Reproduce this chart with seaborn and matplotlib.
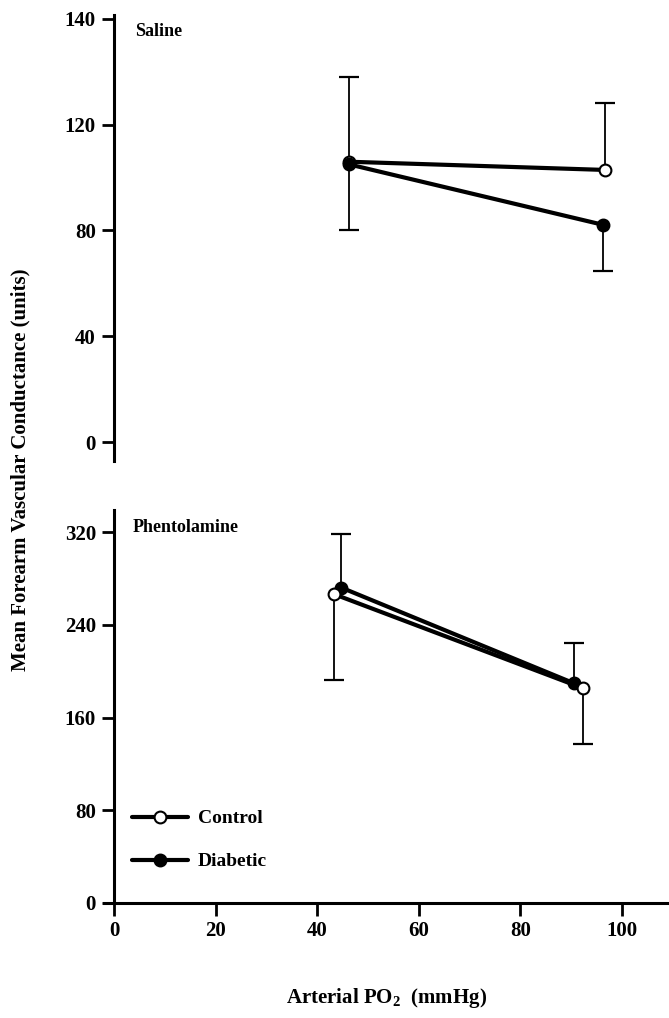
import matplotlib.pyplot as plt
from matplotlib.lines import Line2D
import seaborn as sns

# valori (PO2 arteriosa in mmHg, conduttanza in unita')
po2_sal_control = [46.3, 96.6]
mfvc_sal_control = [106.0, 102.9]
po2_sal_diabetic = [46.3, 96.4]
mfvc_sal_diabetic = [105.0, 82.1]
# estremi delle barre di errore (disegnate da un solo lato)
sal_control_upper = [138.2, 128.1]
sal_diabetic_lower = [80.2, 64.8]

po2_phe_control = [43.4, 92.4]
mfvc_phe_control = [266.3, 185.2]
po2_phe_diabetic = [44.8, 90.6]
mfvc_phe_diabetic = [272.0, 189.5]
phe_control_lower = [192.4, 137.2]
phe_diabetic_upper = [318.4, 224.6]

sal_yticks = [0, 40, 80, 120, 160]
sal_yticklabels = ['0', '40', '80', '120', '140']
phe_yticks = [0, 80, 160, 240, 320]
xticks = [0, 20, 40, 60, 80, 100]

sns.set_style('ticks')
plt.rcParams['font.family'] = ['Liberation Serif', 'DejaVu Serif']
plt.rcParams['font.weight'] = 'bold'
plt.rcParams['mathtext.fontset'] = 'custom'
plt.rcParams['mathtext.rm'] = 'Liberation Serif:bold'
for k in ['text.color', 'axes.edgecolor', 'xtick.color', 'ytick.color',
          'axes.labelcolor']:
    plt.rcParams[k] = 'black'

fig = plt.figure(figsize=(6.69, 10.18), dpi=100)
ax1 = fig.add_axes([0.1552, 0.5476, 0.8448, 0.4377])
ax2 = fig.add_axes([0.1552, 0.1130, 0.8448, 0.3860])

lw = 3
ms = 8.5


def draw(ax, x, y, filled):
    sns.lineplot(x=x, y=y, ax=ax, color='black', lw=lw, marker='o',
                 markersize=ms, markeredgecolor='black', markeredgewidth=1.5,
                 markerfacecolor='black' if filled else 'white', zorder=3)


def errbar(ax, x, y, ends):
    # barra verticale dal punto fino all'estremo, con cappuccio solo in fondo
    for xi, yi, ei in zip(x, y, ends):
        ax.plot([xi, xi], [yi, ei], color='black', lw=1.3, zorder=1)
        ax.plot([xi], [ei], marker='_', markersize=15, markeredgewidth=1.6,
                color='black', zorder=1)


# pannello superiore: salina
errbar(ax1, po2_sal_control, mfvc_sal_control, sal_control_upper)
errbar(ax1, po2_sal_diabetic, mfvc_sal_diabetic, sal_diabetic_lower)
draw(ax1, po2_sal_control, mfvc_sal_control, False)
draw(ax1, po2_sal_diabetic, mfvc_sal_diabetic, True)

# pannello inferiore: fentolamina
errbar(ax2, po2_phe_control, mfvc_phe_control, phe_control_lower)
errbar(ax2, po2_phe_diabetic, mfvc_phe_diabetic, phe_diabetic_upper)
draw(ax2, po2_phe_diabetic, mfvc_phe_diabetic, True)
draw(ax2, po2_phe_control, mfvc_phe_control, False)

for ax in (ax1, ax2):
    ax.set_xlim(-2.0, 109.3)
    ax.spines['top'].set_visible(False)
    ax.spines['right'].set_visible(False)
    ax.spines['left'].set_position(('data', 0))
    ax.spines['left'].set_linewidth(2.2)
    ax.spines['bottom'].set_linewidth(2.2)
    ax.tick_params(direction='out', length=9, width=2, labelsize=15, pad=4,
                   colors='black')
    ax.set_xlabel('')
    ax.set_ylabel('')

ax1.set_ylim(-7, 161.5)
ax1.spines['bottom'].set_visible(False)
ax1.set_xticks([])
ax1.set_yticks(sal_yticks)
ax1.set_yticklabels(sal_yticklabels)

ax2.set_ylim(0, 339)
ax2.set_yticks(phe_yticks)
ax2.set_xticks(xticks)

for ax in (ax1, ax2):
    for lab in ax.get_xticklabels() + ax.get_yticklabels():
        lab.set_fontweight('bold')

fig.text(0.2018, 0.9686, 'Saline', fontsize=13, fontweight='bold',
         ha='left', va='center')
fig.text(0.1988, 0.4823, 'Phentolamine', fontsize=13, fontweight='bold',
         ha='left', va='center')

fig.text(0.030, 0.539, 'Mean Forearm Vascular Conductance (units)',
         fontsize=15, fontweight='bold', rotation=90, ha='center', va='center')
fig.text(0.577, 0.0195, r'Arterial PO$_2$  (mmHg)', fontsize=15,
         fontweight='bold', ha='center', va='center')

handles = [
    Line2D([], [], color='black', lw=lw, marker='o', markersize=ms,
           markerfacecolor='white', markeredgecolor='black', markeredgewidth=1.5),
    Line2D([], [], color='black', lw=lw, marker='o', markersize=ms,
           markerfacecolor='black', markeredgecolor='black', markeredgewidth=1.5),
]
leg = ax2.legend(handles, ['Control', 'Diabetic'], loc='upper left',
                 bbox_to_anchor=(0.1973, 0.2045), bbox_transform=fig.transFigure,
                 frameon=False, fontsize=14, handlelength=2.9, handletextpad=0.5,
                 labelspacing=1.3, borderpad=0, borderaxespad=0)
for t in leg.get_texts():
    t.set_fontweight('bold')

fig.savefig('out.png', dpi=100)
